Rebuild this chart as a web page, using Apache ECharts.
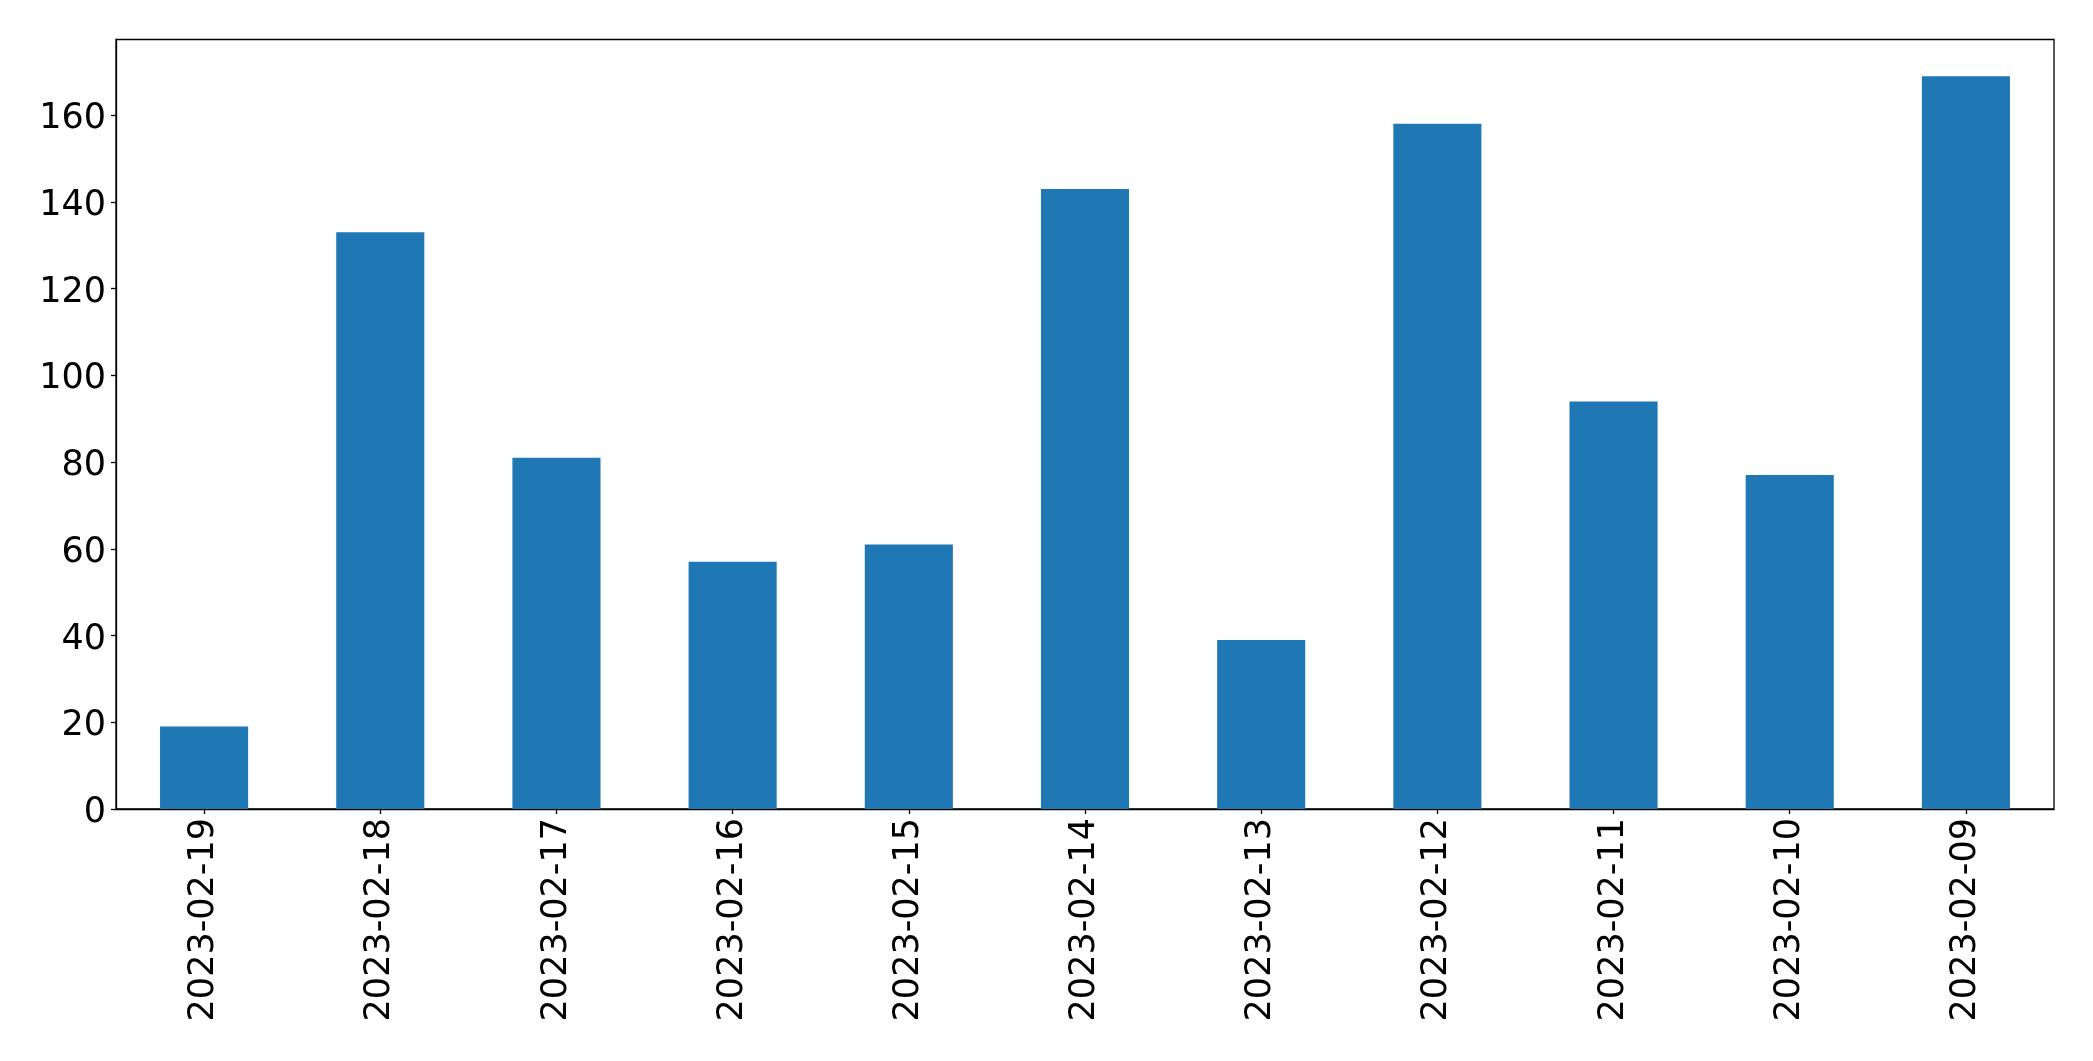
<!DOCTYPE html>
<html>
<head>
<meta charset="utf-8">
<script src="https://cdn.jsdelivr.net/npm/echarts@6/dist/echarts.min.js"></script>
<style>
html,body{margin:0;padding:0;background:#fff;}
#chart{width:2093px;height:1061px;}
</style>
</head>
<body>
<div id="chart"></div>
<script>
const categories = ["2023-02-19","2023-02-18","2023-02-17","2023-02-16","2023-02-15","2023-02-14","2023-02-13","2023-02-12","2023-02-11","2023-02-10","2023-02-09"];
const values = [19, 133, 81, 57, 61, 143, 39, 158, 94, 77, 169];
const yTicks = [0, 20, 40, 60, 80, 100, 120, 140, 160];
const yMax = 177.45;

const chart = echarts.init(document.getElementById('chart'), null, {renderer: 'canvas'});
const font = '"DejaVu Sans", sans-serif';
chart.setOption({
  animation: false,
  backgroundColor: '#ffffff',
  grid: {
    left: 116, top: 39.5, right: 39, bottom: 252,
    show: true, borderColor: '#000', borderWidth: 1.3, backgroundColor: 'transparent'
  },
  xAxis: {
    type: 'category',
    data: categories,
    boundaryGap: true,
    axisLine: {show: true, lineStyle: {color: '#000', width: 1.3}},
    axisTick: {show: true, alignWithLabel: true, inside: false, length: 5, lineStyle: {color: '#000', width: 1.3}},
    axisLabel: {rotate: 90, margin: 9, color: '#000', fontFamily: font, fontSize: 35, interval: 0},
    splitLine: {show: false}
  },
  yAxis: {
    type: 'value',
    min: 0, max: yMax, interval: 20,
    axisLine: {show: true, lineStyle: {color: '#000', width: 1.3}},
    axisTick: {show: true, inside: false, length: 5, lineStyle: {color: '#000', width: 1.3}, customValues: yTicks},
    axisLabel: {
      color: '#000', fontFamily: font, fontSize: 35, margin: 10, customValues: yTicks,
      formatter: '{a|{value}}',
      rich: {a: {color: '#000', fontFamily: font, fontSize: 35, padding: [8, 0, 0, 0]}}
    },
    splitLine: {show: false}
  },
  series: [{
    type: 'bar',
    data: values,
    barWidth: '50%',
    itemStyle: {color: '#1f77b4'}
  }]
});
</script>
</body>
</html>
